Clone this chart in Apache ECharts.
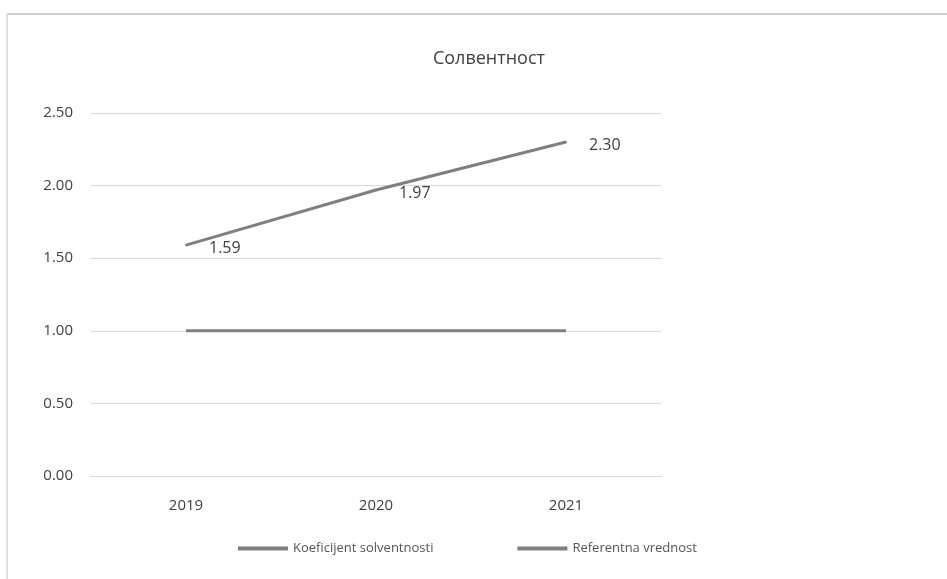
<!DOCTYPE html>
<html><head><meta charset="utf-8">
<script src="https://cdn.jsdelivr.net/npm/echarts@6/dist/echarts.min.js"></script>
<style>html,body{margin:0;padding:0;background:#fff}#c{width:947px;height:579px}</style>
</head><body><div id="c"></div>
<script>
const title = 'Солвентност';
const categories = ['2019', '2020', '2021'];
const seriesNames = ['Koeficijent solventnosti', 'Referentna vrednost'];
const solvency = [1.59, 1.97, 2.30];
const reference = [1.00, 1.00, 1.00];
const yTicks = { min: 0, max: 2.5, interval: 0.5 };

const chart = echarts.init(document.getElementById('c'));
const font = 'Open Sans';
chart.setOption({
  backgroundColor: '#fff',
  animation: false,
  graphic: [
    { type: 'line', shape: { x1: 7, y1: 14, x2: 947, y2: 14 }, style: { stroke: '#d0d0d0', lineWidth: 2 } },
    { type: 'line', shape: { x1: 7, y1: 14, x2: 7, y2: 579 }, style: { stroke: '#e0e0e0', lineWidth: 2 } }
  ],
  title: { text: title, left: 484, top: 45, textAlign: 'center',
    textStyle: { fontFamily: font, fontSize: 18, fontWeight: 'normal', color: '#404040' } },
  legend: { top: 537, left: 233, itemGap: 84, itemWidth: 50, itemHeight: 4, icon: 'rect',
    textStyle: { fontFamily: font, fontSize: 13, color: '#555' },
    data: [
      { name: seriesNames[0], itemStyle: { color: '#7f7f7f' } },
      { name: seriesNames[1], itemStyle: { color: '#808080' } }
    ] },
  grid: { left: 91, right: 286, top: 113, bottom: 103 },
  xAxis: { type: 'category', data: categories, boundaryGap: true,
    axisLine: { lineStyle: { color: '#d9d9d9' } }, axisTick: { show: false },
    axisLabel: { fontFamily: font, fontSize: 15, color: '#404040', margin: 22 } },
  yAxis: { type: 'value', min: yTicks.min, max: yTicks.max, interval: yTicks.interval,
    axisLine: { show: false }, axisTick: { show: false },
    splitLine: { lineStyle: { color: '#d9d9d9' } },
    axisLabel: { fontFamily: font, fontSize: 15, color: '#404040', margin: 18,
      formatter: v => v.toFixed(2) } },
  series: [
    { name: seriesNames[0], type: 'line', data: solvency, symbol: 'circle', symbolSize: 2, showSymbol: true,
      lineStyle: { color: '#7f7f7f', width: 3 }, itemStyle: { color: '#7f7f7f' },
      label: { show: true, position: 'right', distance: 22, fontFamily: font, fontSize: 16, color: '#404040',
        offset: [0, 3], formatter: p => p.value.toFixed(2) } },
    { name: seriesNames[1], type: 'line', data: reference, symbol: 'none',
      lineStyle: { color: '#808080', width: 3 }, itemStyle: { color: '#808080' } }
  ]
});
</script></body></html>
